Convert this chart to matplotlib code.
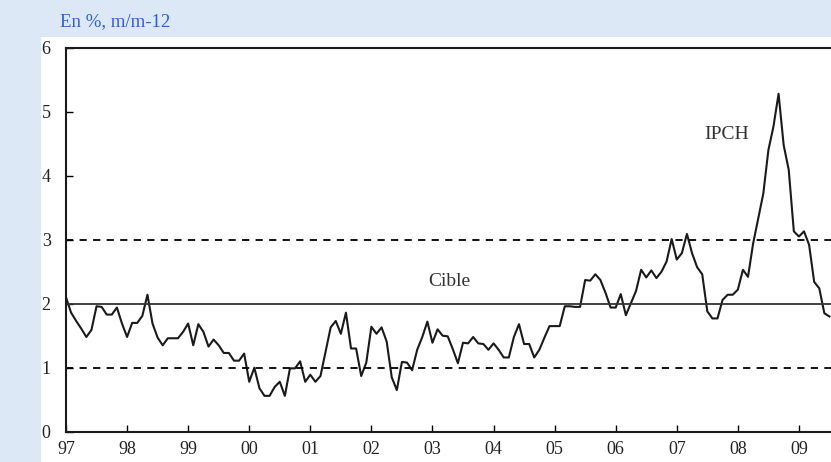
#%%
import matplotlib.pyplot as plt
import numpy as np
from matplotlib.patches import Rectangle
#%%
plt.rcParams['font.family'] = ['Liberation Serif', 'DejaVu Serif']

start_year = 1997
# IPCH, glissement annuel en %, mensuel de janv. 1997 a juil. 2009
ipch = [2.10, 1.86, 1.73, 1.61, 1.48, 1.59, 1.96, 1.95, 1.83, 1.83, 1.94, 1.69,
        1.48, 1.70, 1.70, 1.81, 2.14, 1.69, 1.47, 1.35, 1.46, 1.46, 1.46, 1.56,
        1.69, 1.35, 1.68, 1.56, 1.33, 1.44, 1.35, 1.23, 1.23, 1.11, 1.11, 1.22,
        0.78, 1.00, 0.68, 0.56, 0.56, 0.70, 0.78, 0.56, 0.99, 0.99, 1.10, 0.78,
        0.89, 0.78, 0.87, 1.25, 1.63, 1.73, 1.53, 1.86, 1.30, 1.30, 0.87, 1.08,
        1.64, 1.53, 1.63, 1.41, 0.85, 0.65, 1.09, 1.08, 0.96, 1.28, 1.48, 1.72,
        1.39, 1.60, 1.50, 1.49, 1.29, 1.07, 1.39, 1.38, 1.48, 1.38, 1.37, 1.28,
        1.38, 1.28, 1.16, 1.16, 1.48, 1.68, 1.37, 1.37, 1.16, 1.28, 1.47, 1.65,
        1.65, 1.65, 1.96, 1.96, 1.95, 1.95, 2.37, 2.36, 2.46, 2.37, 2.17, 1.94,
        1.94, 2.15, 1.82, 2.01, 2.20, 2.53, 2.41, 2.52, 2.40, 2.50, 2.66, 3.01,
        2.69, 2.79, 3.09, 2.79, 2.57, 2.46, 1.88, 1.77, 1.77, 2.06, 2.14, 2.14,
        2.22, 2.53, 2.42, 2.94, 3.33, 3.72, 4.40, 4.77, 5.28, 4.48, 4.09, 3.13,
        3.05, 3.13, 2.92, 2.34, 2.24, 1.85, 1.80]
years = list(range(1997, 2010))
year_labels = ['97', '98', '99', '00', '01', '02', '03', '04', '05', '06', '07', '08', '09']
cible = 2.0
bande = [1.0, 3.0]
#%%
t = start_year + np.arange(len(ipch)) / 12

fig = plt.figure(figsize=(8.31, 4.62), dpi=100, facecolor='#dde8f6')
fig.patches.append(Rectangle((41/831, 0), 1, (462-37)/462, transform=fig.transFigure,
                             facecolor='white', edgecolor='none', zorder=-1))
ax = fig.add_axes([66/831, 30.3/462, 794/831, 384/462])

ax.plot(t, ipch, color='#1a1a1a', linewidth=1.5)
ax.axhline(cible, color='#333333', linewidth=1.3)
for b in bande:
    ax.axhline(b, color='black', linewidth=1.3, linestyle=(0, (4, 3.5)))

ax.text(2003.28, 2.35, 'Cible', ha='center', va='center', fontsize=14, color='#333333')
ax.text(2007.82, 4.64, 'IPCH', ha='center', va='center', fontsize=14, color='#333333')

ax.set_xlim(1997, 2010)
ax.set_ylim(0, 6)
ax.set_xticks(years)
ax.set_xticklabels(year_labels)
ax.set_yticks(range(0, 7))
for s in ax.spines.values():
    s.set_linewidth(1.5)
    s.set_color('#1a1a1a')
ax.tick_params(direction='in', length=5, width=1, labelsize=13, labelcolor='#222222')
ax.tick_params(axis='y', pad=11)
ax.tick_params(axis='x', pad=7)

fig.text(60/831, 1 - 26/462, 'En %, m/m-12', color='#2f5fd0', fontsize=13.5, va='baseline')

plt.savefig('out.png', dpi=100, facecolor=fig.get_facecolor())
